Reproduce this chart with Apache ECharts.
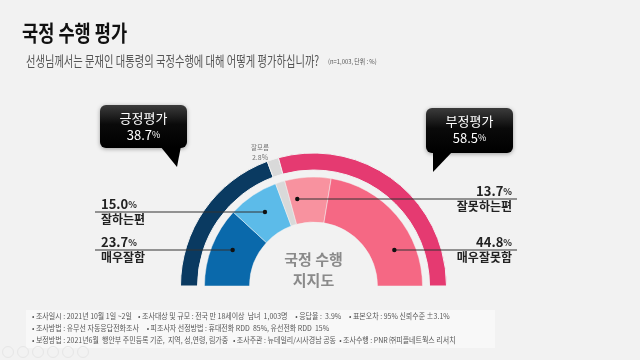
<!DOCTYPE html>
<html><head><meta charset="utf-8">
<script src="https://cdn.jsdelivr.net/npm/echarts@6/dist/echarts.min.js"></script>
<style>html,body{margin:0;padding:0;background:#f2f2f2}#c{width:640px;height:360px}</style>
</head><body><div id="c"></div>
<script>
// ---- data ----
const outerNames = ['긍정평가', '잘모름', '부정평가'];
const outerValues = [38.7, 2.8, 58.5];
const innerNames = ['매우잘함', '잘하는편', '잘모름', '잘못하는편', '매우잘못함'];
const innerValues = [23.7, 15.0, 2.8, 13.7, 44.8];
const titleText = '국정 수행 평가';
const questionText = '선생님께서는 문재인 대통령의 국정수행에 대해 어떻게 평가하십니까?';
const noteText = '(n=1,003, 단위 : %)';
const centerLines = ['국정 수행', '지지도'];
const footerLines = [
  '• 조사일시 : 2021년 10월 1일 ~2일    • 조사대상 및 규모 : 전국 만 18세이상  남녀  1,003명     • 응답율 :  3.9%     • 표본오차 : 95% 신뢰수준 ±3.1%',
  '• 조사방법 : 유무선 자동응답전화조사     • 피조사자 선정방법 : 휴대전화 RDD  85%, 유선전화 RDD  15%',
  '• 보정방법 : 2021년6월  행안부 주민등록 기준,  지역, 성,연령, 림가중   • 조사주관 : 뉴데일리/시사경남 공동  • 조사수행 : PNR ㈜피플네트웍스 리서치'
];

// ---- styles / layout ----
const outerColors = ['#0a3a61', '#d9d9d9', '#e53a71'];
const innerColors = ['#0a69ab', '#5cbbe9', '#d9d9d9', '#f8929f', '#f56884'];
const CX = 313.5, CY = 286;
const FONT = '"Noto Sans CJK KR", "Noto Sans", sans-serif';

const chart = echarts.init(document.getElementById('c'), null, {renderer: 'canvas'});

function mk(names, values, colors) {
  return names.map((n, i) => ({name: n, value: values[i], itemStyle: {color: colors[i]}}));
}

// dot positions from segment mid-angles, intersected with the label line level
const DOT_R = 88.5;
function dotX(idx, lineY) {
  let cum = 0;
  for (let i = 0; i < idx; i++) cum += innerValues[i];
  const total = innerValues.reduce((a, b) => a + b, 0);
  const f = (cum + innerValues[idx] / 2) / total;
  const th = Math.PI * (1 - f);
  const dy = CY - lineY;
  const dx = Math.sqrt(Math.max(0, DOT_R * DOT_R - dy * dy));
  return CX + (Math.cos(th) < 0 ? -dx : dx);
}

const labelDefs = [
  {idx: 1, y: 212, side: 'left'},
  {idx: 0, y: 250, side: 'left'},
  {idx: 3, y: 199, side: 'right'},
  {idx: 4, y: 250, side: 'right'}
];

const graphics = [];
// title
graphics.push({type: 'text', x: 22, y: 22, scaleX: 0.8,
  style: {text: titleText, font: 'bold 22px ' + FONT, fill: '#111'}});
graphics.push({type: 'text', x: 26, y: 54, scaleX: 0.735,
  style: {text: questionText, font: '14px ' + FONT, fill: '#555'}});
graphics.push({type: 'text', x: 328, y: 58, scaleX: 0.9,
  style: {text: noteText, font: '6.5px ' + FONT, fill: '#555'}});

// label lines, dots and texts
labelDefs.forEach(d => {
  const dx = dotX(d.idx, d.y);
  const pct = innerValues[d.idx].toFixed(1);
  if (d.side === 'left') {
    graphics.push({type: 'line', shape: {x1: 95, y1: d.y, x2: dx, y2: d.y},
      style: {stroke: '#333', lineWidth: 1}, z: 10});
    graphics.push({type: 'text', x: 101, y: d.y - 1,
      style: {text: '{a|' + pct + '}{b|%}', verticalAlign: 'bottom', align: 'left',
        rich: {a: {font: 'bold 13px ' + FONT, fill: '#222'}, b: {font: 'bold 9px ' + FONT, fill: '#222'}}}});
    graphics.push({type: 'text', x: 101, y: d.y + 1,
      style: {text: innerNames[d.idx], verticalAlign: 'top', align: 'left', font: 'bold 12px ' + FONT, fill: '#222'}});
  } else {
    graphics.push({type: 'line', shape: {x1: dx, y1: d.y, x2: 517, y2: d.y},
      style: {stroke: '#333', lineWidth: 1}, z: 10});
    graphics.push({type: 'text', x: 512, y: d.y - 1,
      style: {text: '{a|' + pct + '}{b|%}', verticalAlign: 'bottom', align: 'right',
        rich: {a: {font: 'bold 13px ' + FONT, fill: '#222'}, b: {font: 'bold 9px ' + FONT, fill: '#222'}}}});
    graphics.push({type: 'text', x: 512, y: d.y + 1,
      style: {text: innerNames[d.idx], verticalAlign: 'top', align: 'right', font: 'bold 12px ' + FONT, fill: '#222'}});
  }
  graphics.push({type: 'circle', shape: {cx: dx, cy: d.y, r: 2.2}, style: {fill: '#111'}, z: 11});
});

// small 잘모름 label
graphics.push({type: 'text', x: 260, y: 148, style: {text: outerNames[1], align: 'center', verticalAlign: 'middle', font: '6.5px ' + FONT, fill: '#777'}});
graphics.push({type: 'text', x: 260, y: 157, style: {text: outerValues[1].toFixed(1) + '%', align: 'center', verticalAlign: 'middle', font: '7px ' + FONT, fill: '#777'}});

// center text
graphics.push({type: 'text', x: CX, y: 259, style: {text: centerLines[0], align: 'center', verticalAlign: 'middle', font: 'bold 15px ' + FONT, fill: '#8a8a8a'}});
graphics.push({type: 'text', x: CX, y: 280, style: {text: centerLines[1], align: 'center', verticalAlign: 'middle', font: 'bold 15px ' + FONT, fill: '#8a8a8a'}});

// callout boxes
const boxFill = new echarts.graphic.LinearGradient(0, 0, 0, 1, [{offset: 0, color: '#3c3c3c'}, {offset: 0.45, color: '#0a0a0a'}, {offset: 1, color: '#000'}]);
function callout(x, y, w, h, tail, name, val) {
  graphics.push({type: 'polygon', shape: {points: tail}, style: {fill: '#000'}, z: 5});
  graphics.push({type: 'rect', shape: {x: x, y: y, width: w, height: h, r: 6},
    style: {fill: boxFill, shadowBlur: 4, shadowColor: 'rgba(0,0,0,0.35)', shadowOffsetY: 1}, z: 5});
  graphics.push({type: 'text', x: x + w / 2, y: y + 13, z: 6,
    style: {text: name, align: 'center', verticalAlign: 'middle', font: '13px ' + FONT, fill: '#fff'}});
  graphics.push({type: 'text', x: x + w / 2, y: y + 30, z: 6,
    style: {text: '{a|' + val.toFixed(1) + '}{b|%}', align: 'center', verticalAlign: 'middle',
      rich: {a: {font: '13px ' + FONT, fill: '#fff'}, b: {font: '9px ' + FONT, fill: '#fff'}}}});
}
callout(100, 105, 87, 43, [[160, 146], [181, 146], [177, 167]], outerNames[0], outerValues[0]);
callout(426, 108, 87, 45, [[433, 151], [453, 151], [433, 172]], outerNames[2], outerValues[2]);

// footer
graphics.push({type: 'rect', shape: {x: 26, y: 310, width: 469, height: 38}, style: {fill: '#f8f8f8'}});
footerLines.forEach((t, i) => {
  graphics.push({type: 'text', x: 32, y: 316 + i * 12, scaleX: 0.93,
    style: {text: t, verticalAlign: 'middle', font: '7.5px ' + FONT, fill: '#555'}});
});
// faint viewer controls
for (let i = 0; i < 6; i++) {
  graphics.push({type: 'circle', shape: {cx: 8 + i * 15, cy: 352, r: 5.5}, style: {fill: 'none', stroke: '#e6e6e6', lineWidth: 1}});
}

chart.setOption({
  backgroundColor: '#f2f2f2',
  animation: false,
  series: [
    {
      type: 'pie', center: [CX, CY], radius: [116, 133],
      startAngle: 180, endAngle: 0, clockwise: true,
      label: {show: false}, labelLine: {show: false}, silent: true,
      itemStyle: {borderColor: '#f2f2f2', borderWidth: 1},
      data: mk(outerNames, outerValues, outerColors)
    },
    {
      type: 'pie', center: [CX, CY], radius: [64, 109],
      startAngle: 180, endAngle: 0, clockwise: true,
      label: {show: false}, labelLine: {show: false}, silent: true,
      itemStyle: {borderColor: '#f2f2f2', borderWidth: 0.5},
      data: mk(innerNames, innerValues, innerColors)
    }
  ],
  graphic: graphics
});
</script></body></html>
